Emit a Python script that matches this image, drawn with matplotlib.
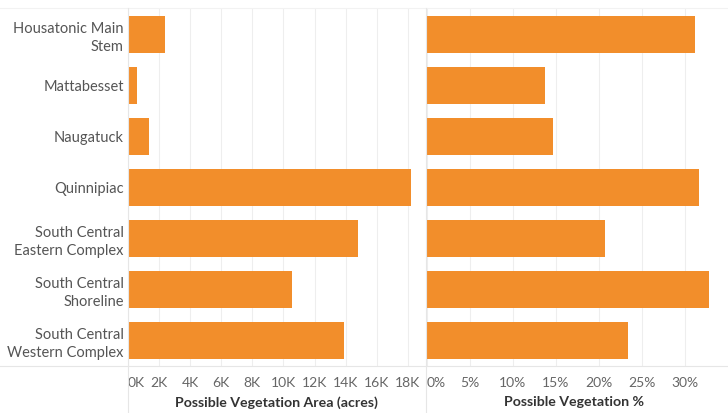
import matplotlib
matplotlib.use("Agg")
import matplotlib.pyplot as plt
from matplotlib.lines import Line2D

categories = ["Housatonic Main\nStem", "Mattabesset", "Naugatuck", "Quinnipiac",
              "South Central\nEastern Complex", "South Central\nShoreline",
              "South Central\nWestern Complex"]
area_acres = [2380, 560, 1350, 18200, 14800, 10550, 13900]
veg_pct = [31.2, 13.7, 14.7, 31.6, 20.7, 32.8, 23.4]
area_ticks = [0, 2000, 4000, 6000, 8000, 10000, 12000, 14000, 16000, 18000]
area_ticklabels = ["0K", "2K", "4K", "6K", "8K", "10K", "12K", "14K", "16K", "18K"]
pct_ticks = [0, 5, 10, 15, 20, 25, 30]
pct_ticklabels = ["0%", "5%", "10%", "15%", "20%", "25%", "30%"]

plt.rcParams['font.family'] = ['Lato', 'DejaVu Sans']
ORANGE = "#F28E2B"
W, H = 728, 413
fig = plt.figure(figsize=(W/100, H/100), dpi=100)

def fx(px): return px / W
def fy(py): return 1 - py / H

bottom = fy(366); top = fy(9)
ax1 = fig.add_axes([fx(128), bottom, fx(425) - fx(128), top - bottom])
ax2 = fig.add_axes([fx(427), bottom, fx(721) - fx(427), top - bottom])

ypos = list(range(len(categories)))
ax1.barh(ypos, area_acres, height=0.74, color=ORANGE, zorder=3)
ax2.barh(ypos, veg_pct, height=0.74, color=ORANGE, zorder=3)

for ax in (ax1, ax2):
    ax.set_ylim(len(categories) - 0.5, -0.5)
    for s in ax.spines.values():
        s.set_visible(False)
    ax.grid(axis='x', color='#eeeeee', linewidth=0.8, zorder=0)
    ax.tick_params(axis='x', length=0, pad=8, labelsize=10, labelcolor='#666666')
    ax.tick_params(axis='y', length=0)

ax1.set_xlim(0, 19100)
ax1.set_xticks(area_ticks)
ax1.set_xticklabels(area_ticklabels)
ax1.set_yticks(ypos)
ax1.set_yticklabels(categories, fontsize=10.5, color='#555555', linespacing=1.35)
ax1.tick_params(axis='y', pad=3)
ax1.set_xlabel("Possible Vegetation Area (acres)", fontsize=10.2, fontweight='bold',
               color='#333333', labelpad=5)

ax2.set_xlim(0, 34.2)
ax2.set_xticks(pct_ticks)
ax2.set_xticklabels(pct_ticklabels)
ax2.set_yticks([])
ax2.set_xlabel("Possible Vegetation %", fontsize=10.2, fontweight='bold',
               color='#333333', labelpad=5)

for ax in (ax1, ax2):
    ax.get_xticklabels()[0].set_horizontalalignment('left')

# separators
line_c = '#e6e6e6'
fig.add_artist(Line2D([0, 1], [fy(366), fy(366)], color=line_c, lw=0.8, transform=fig.transFigure))
fig.add_artist(Line2D([0, 1], [fy(8), fy(8)], color='#f2f2f2', lw=0.8, transform=fig.transFigure))
for px in (128, 426):
    fig.add_artist(Line2D([fx(px), fx(px)], [0, fy(8)], color=line_c, lw=0.8, transform=fig.transFigure))

fig.savefig("out.png", dpi=100)
